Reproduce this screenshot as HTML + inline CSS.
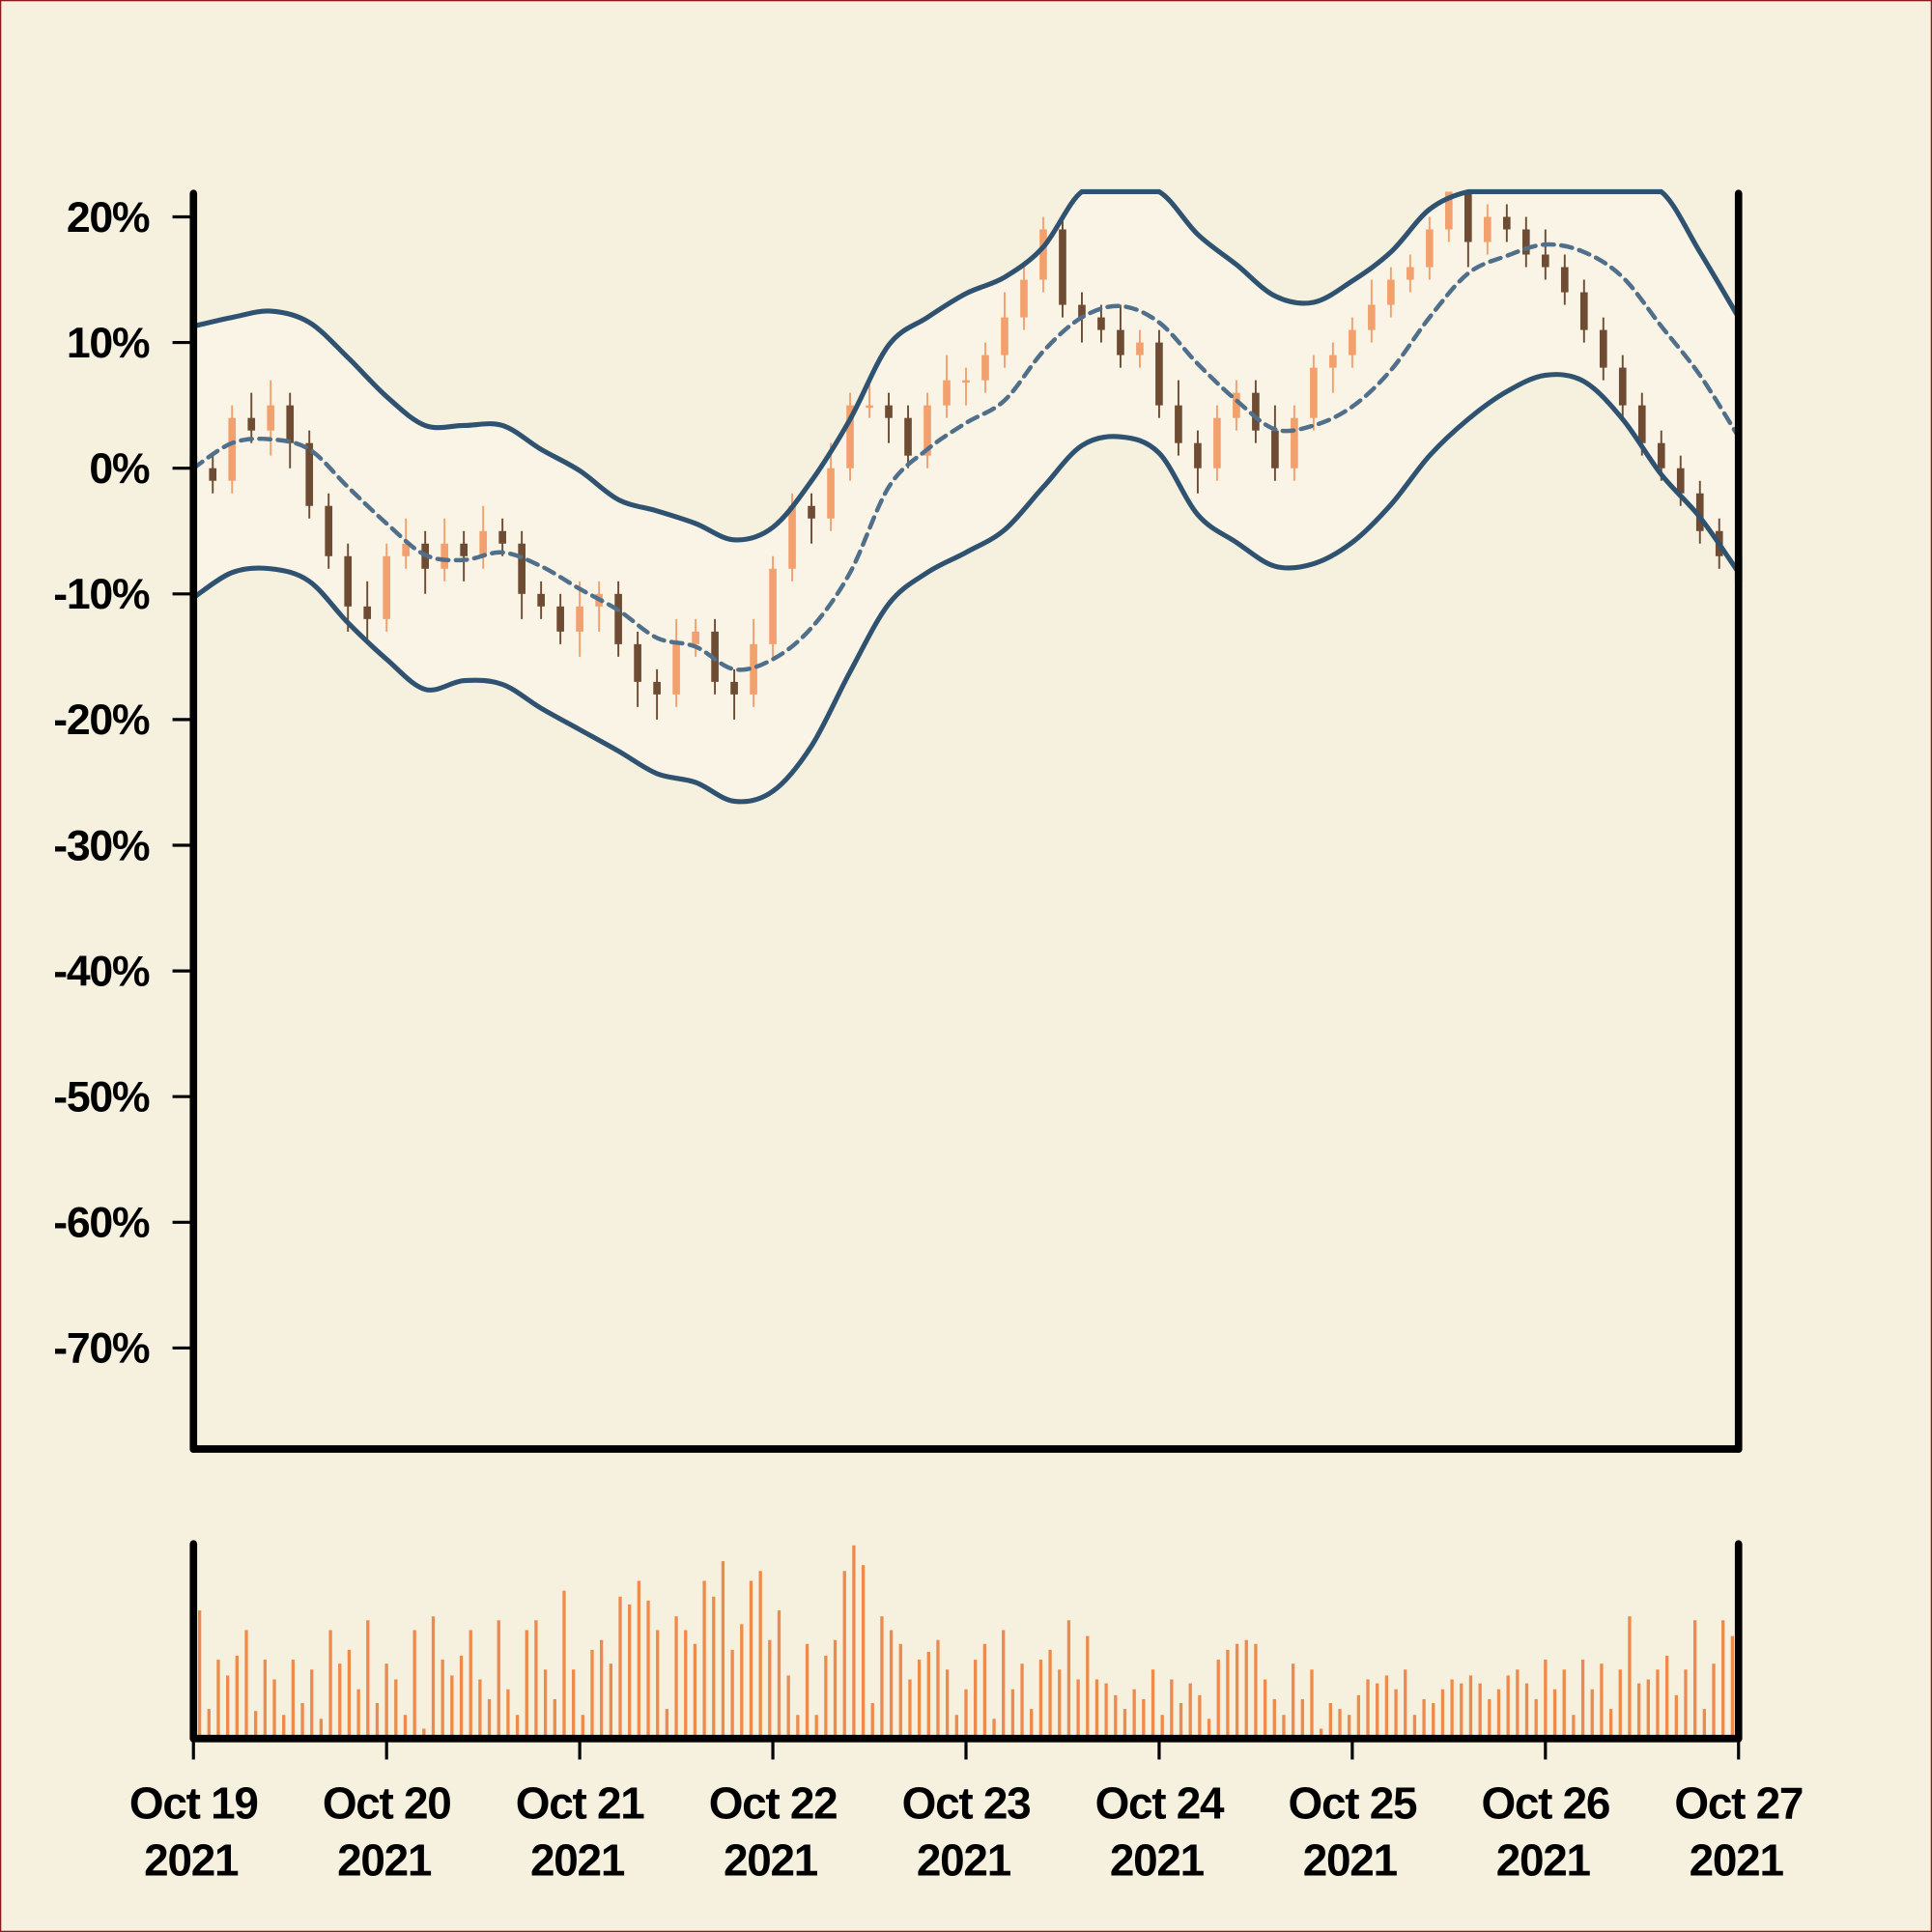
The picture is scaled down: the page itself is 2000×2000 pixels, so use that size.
<!DOCTYPE html>
<html><head><meta charset="utf-8"><style>
html,body{margin:0;padding:0;background:#f6f0df;}
svg{display:block;font-family:"Liberation Sans",sans-serif;font-weight:bold;}
</style></head><body>
<svg id="chart" width="2000" height="2000" viewBox="0 0 1568 1568" xmlns="http://www.w3.org/2000/svg">
<rect x="0.5" y="0.5" width="1567" height="1567" fill="#f6f0df" stroke="#8b1a1a" stroke-width="1"/>
<g id="bands"></g><g id="candles"></g><g id="lines"></g><g id="vol"></g><g id="axes"></g>
</svg>
<script>
const dayLabels=["Oct 19","Oct 20","Oct 21","Oct 22","Oct 23","Oct 24","Oct 25","Oct 26","Oct 27"];
const yTicks=[20,10,0,-10,-20,-30,-40,-50,-60,-70];
const closes=[0,-1,4,3,5,2,-3,-7,-11,-12,-7,-6,-8,-6,-7,-5,-6,-10,-11,-13,-11,-10,-14,-17,-18,-14,-13,-17,-18,-14,-8,-3,-4,0,5,5,4,1,5,7,7,9,12,15,19,13,12,11,9,10,5,2,0,4,6,3,0,4,8,9,11,13,15,16,19,22,18,20,19,17,16,14,11,8,5,2,0,-2,-5,-7,-9];
const wickHi=[2,1,1,2,2,1,1,1,1,2,1,2,1,2,1,2,1,1,1,1,2,1,1,1,1,2,1,1,1,2,1,1,1,2,1,2,1,1,1,2,1,1,2,1,1,1,1,1,2,1,1,2,1,1,1,1,2,1,1,1,1,2,1,1,1,1,1,1,1,1,2,1,1,1,1,1,1,1,1,1,1];
const wickLo=[2,1,1,1,2,2,1,1,2,2,1,1,2,1,2,1,1,2,1,1,2,2,1,2,2,1,1,1,2,1,1,1,2,1,1,1,2,1,1,1,2,1,1,1,1,1,2,1,1,1,1,1,2,1,1,1,1,1,1,2,1,1,1,1,1,1,2,1,1,1,1,1,1,1,1,1,1,1,1,1,1];
const midBand=[0,2,2.3,1.5,-1.5,-4.4,-6.9,-7.3,-6.7,-7.8,-9.6,-11.3,-13.5,-14.2,-16,-15.2,-12.7,-8.3,-1.5,1.5,3.6,5.4,9.3,12,12.9,11.6,8.3,5.4,3.1,3.4,4.9,7.8,12,15.5,16.9,17.8,17.2,15.2,11.3,7.4,2.5];
const upperBand=[11.3,12,12.5,11.6,8.8,5.7,3.4,3.4,3.4,1.5,-0.2,-2.5,-3.4,-4.4,-5.7,-4.7,-1,3.9,9.8,12,13.9,15.2,17.6,22,22,22,18.6,16.2,13.7,13.2,14.9,17.2,20.6,22,22,22,22,22,22,17.2,12];
const lowerBand=[-10.3,-8.3,-8,-9,-12.3,-15.2,-17.6,-16.9,-17.2,-19.1,-20.8,-22.5,-24.3,-25,-26.5,-25.7,-22.1,-16.2,-10.8,-8.3,-6.7,-4.9,-1.5,1.8,2.5,1.2,-3.7,-5.9,-7.8,-7.6,-5.9,-2.9,1,3.9,6.1,7.4,6.9,3.9,-0.5,-3.9,-8.3];
const volumes=[65,15,40,32,42,55,14,40,30,12,40,18,35,10,55,38,45,25,60,18,38,30,12,55,5,62,40,32,42,55,30,20,60,25,12,55,60,35,20,75,35,12,45,50,38,72,68,80,70,55,15,62,55,48,80,72,90,45,58,80,85,50,65,32,12,48,12,42,50,85,98,88,18,62,55,48,30,40,44,50,35,12,25,40,48,10,55,25,38,15,40,45,35,60,30,52,30,28,22,15,25,20,35,12,30,18,28,22,10,40,45,48,50,48,30,20,12,38,20,35,5,18,15,12,22,30,28,32,25,35,12,20,18,25,30,28,32,28,20,25,32,35,28,20,40,25,35,12,40,25,38,15,35,62,28,30,35,42,22,35,60,15,38,60,52];

const NS="http://www.w3.org/2000/svg";
const X0=157,X1=1411,DAYS=8;
const xd=d=>X0+(X1-X0)*d/DAYS;
const yp=v=>380-v*10.2;
const VB=1411,VS=1.6;
function mk(tag,attrs,parent){const e=document.createElementNS(NS,tag);for(const k in attrs)e.setAttribute(k,attrs[k]);parent.appendChild(e);return e;}
const gB=document.getElementById('bands'),gC=document.getElementById('candles'),gL=document.getElementById('lines'),gV=document.getElementById('vol'),gA=document.getElementById('axes');
const clip=v=>Math.min(v,22);
function toPts(arr){return arr.map((v,i)=>[xd(i*DAYS/(arr.length-1)),yp(clip(v))]);}
function smooth(p,start){let d=start?'M'+p[0][0]+','+p[0][1]:'L'+p[0][0]+','+p[0][1];
  for(let i=0;i<p.length-1;i++){const p0=p[Math.max(i-1,0)],p1=p[i],p2=p[i+1],p3=p[Math.min(i+2,p.length-1)];
    const c1x=p1[0]+(p2[0]-p0[0])/6,c1y=p1[1]+(p2[1]-p0[1])/6,c2x=p2[0]-(p3[0]-p1[0])/6,c2y=p2[1]-(p3[1]-p1[1])/6;
    d+=` C${c1x},${Math.max(c1y,yp(22))} ${c2x},${Math.max(c2y,yp(22))} ${p2[0]},${p2[1]}`;}
  return d;}
const up=toPts(upperBand),lo=toPts(lowerBand);
const fill=mk('path',{d:smooth(up,true)+' '+smooth(lo.slice().reverse(),false)+'Z',fill:'#f9f4e6'},gB);


function line(arr,attrs,name){const e=mk('path',Object.assign({d:smooth(toPts(arr),true),fill:'none','stroke-linecap':'round'},attrs),gL);}
const cn=closes.length;
for(let i=0;i<cn;i++){
  const o=i===0?closes[0]+1:closes[i-1],c=closes[i];
  const isUp=c>=o,col=isUp?'#f3a06f':'#6e4b33';
  const x=xd(i*DAYS/(cn-1));
  const hi=Math.max(o,c)+wickHi[i],lw=Math.min(o,c)-wickLo[i];
  const g=mk('g',{},gC);
  
  
  mk('line',{x1:x,x2:x,y1:yp(clip(hi)),y2:yp(lw),stroke:col,'stroke-width':1.5},g);
  const t=yp(clip(Math.max(o,c))),b=yp(Math.min(o,c));
  mk('rect',{x:x-3,y:t,width:6,height:Math.max(b-t,2),fill:col},g);
}
line(midBand,{stroke:'#4f6f8a','stroke-width':3.5,'stroke-dasharray':'9,6'},'middle-band');
line(upperBand,{stroke:'#2f5270','stroke-width':4},'upper-band');
line(lowerBand,{stroke:'#2f5270','stroke-width':4},'lower-band');
const vn=volumes.length;
for(let i=0;i<vn;i++){
  const x=X0+5+(X1-X0-10)*i/(vn-1);
  const r=mk('rect',{x:x-1.3,y:VB-volumes[i]*VS,width:2.6,height:volumes[i]*VS,fill:'#ee8a4b'},gV);
  
  
}
function ax(tag,a,name){const e=mk(tag,a,gA);return e;}
const K={stroke:'#000','stroke-width':6,'stroke-linecap':'round'};
ax('line',Object.assign({x1:X0,x2:X0,y1:157,y2:1176},K),'price-y-axis');
ax('line',Object.assign({x1:X1,x2:X1,y1:157,y2:1176},K),'price-right-spine');
ax('line',Object.assign({x1:X0,x2:X1,y1:1176,y2:1176},K),'price-x-axis');
ax('line',Object.assign({x1:X0,x2:X0,y1:1253,y2:1411},K),'volume-y-axis');
ax('line',Object.assign({x1:X1,x2:X1,y1:1253,y2:1411},K),'volume-right-spine');
ax('line',Object.assign({x1:X0,x2:X1,y1:1411,y2:1411},K),'volume-x-axis');
yTicks.forEach(v=>{
  ax('line',{x1:140,x2:X0,y1:yp(v),y2:yp(v),stroke:'#000','stroke-width':2.5},'y-tick');
  const t=ax('text',{x:121,y:yp(v)+12,'text-anchor':'end','font-size':35,'letter-spacing':-1,fill:'#000'},'y-tick-label');
  t.textContent=v+'%';
});
dayLabels.forEach((l,i)=>{
  const x=xd(i);
  ax('line',{x1:x,x2:x,y1:1411,y2:1428,stroke:'#000','stroke-width':2.5},'x-tick');
  const t=ax('text',{x:x,y:1476,'text-anchor':'middle','font-size':36,'letter-spacing':-1,fill:'#000'},'x-tick-label');
  t.textContent=l;
  const t2=ax('text',{x:x-2,y:1522,'text-anchor':'middle','font-size':36,'letter-spacing':-1,fill:'#000'},'x-tick-year');
  t2.textContent='2021';
});
</script>
</body></html>
